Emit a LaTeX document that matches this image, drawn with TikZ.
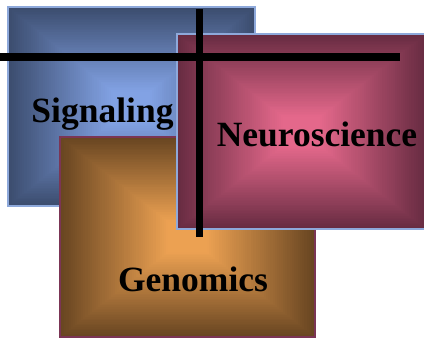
\documentclass[tikz,border=0pt]{standalone}
\usepackage{fontspec}
\setmainfont{Liberation Serif}
\definecolor{bluedark}{HTML}{3C4D6F}
\definecolor{bluelight}{HTML}{82A2E4}
\definecolor{pinkdark}{HTML}{682C42}
\definecolor{pinklight}{HTML}{E4688B}
\definecolor{orangedark}{HTML}{694622}
\definecolor{orangelight}{HTML}{ECA152}
\definecolor{edgeblue}{HTML}{8EA9DB}
\definecolor{edgeplum}{HTML}{7B3555}
% #1,#2 top-left; #3,#4 bottom-right; #5 dark; #6 light
\newcommand\pyramidbox[6]{%
  \foreach \k in {0,...,60}{%
    \pgfmathsetmacro\pyf{\k/60}%
    \pgfmathtruncatemacro\pyp{min(100,120*\pyf)}%
    \pgfmathsetmacro\pyax{#1+\pyf*(#3-#1)/2}%
    \pgfmathsetmacro\pyay{#2+\pyf*(#4-#2)/2}%
    \pgfmathsetmacro\pybx{#3-\pyf*(#3-#1)/2}%
    \pgfmathsetmacro\pyby{#4-\pyf*(#4-#2)/2}%
    \fill[#6!\pyp!#5] (\pyax,\pyay) rectangle (\pybx,\pyby);
  }}
\tikzset{
  label/.style={font=\fontsize{35.5}{42}\selectfont\bfseries, text=black, anchor=base, inner sep=0pt},
  bar/.style={line width=7.5pt, black, line cap=butt}
}
\begin{document}
\begin{tikzpicture}[x=1pt,y=-1pt]
\useasboundingbox (0,0) rectangle (424,338);
% Signaling box
\pyramidbox{8}{7}{255}{206}{bluedark}{bluelight}
\draw[edgeblue, line width=1.6pt] (8,7) rectangle (255,206);
% Genomics box
\pyramidbox{60}{137}{315}{337}{orangedark}{orangelight}
\draw[edgeplum, line width=1.2pt] (60,137) rectangle (315,337);
% Neuroscience box
\pyramidbox{177}{34}{426}{229}{pinkdark}{pinklight}
\draw[edgeblue, line width=1.6pt] (177,34) rectangle (426,229);
% bars
\coordinate (hA) at (0,57);
\coordinate (hB) at (400,57);
\coordinate (vA) at (199.5,9);
\coordinate (vB) at (199.5,237);
\draw[bar] (hA) -- (hB);
\draw[bar] (vA) -- (vB);
% labels
\node[label] (sig) at (102.5,122) {Signaling};
\node[label] (neu) at (317,146) {Neuroscience};
\node[label] (gen) at (193,291) {Genomics};
\end{tikzpicture}
\end{document}
